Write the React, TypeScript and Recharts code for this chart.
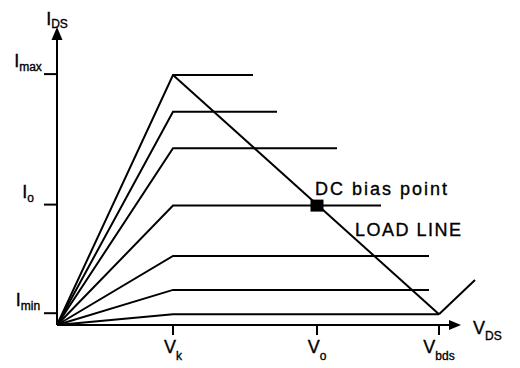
import React from 'react';
import { ComposedChart, Line, Scatter, XAxis, YAxis } from 'recharts';

// Output characteristic: drain current vs drain-source voltage (arbitrary units)
const kneeVoltage = 2.9;
const curveCurrents = [83.3, 71.1, 58.9, 39.8, 23, 11.7, 3.6];
const curveEndVoltages = [4.9, 5.5, 7.0, 8.1, 9.3, 9.3, 9.55];

const xTickValues = [2.9, 6.5, 9.55];
const xTickSubs = ['k', 'o', 'bds'];
const yTickValues = [3.6, 39.8, 83.3];
const yTickSubs = ['min', 'o', 'max'];

const loadLine = [{ v: 2.9, i: 83.3 }, { v: 9.55, i: 3.6 }];
const breakdownLine = [{ v: 9.55, i: 3.6 }, { v: 10.45, i: 15 }];
const biasPoint = [{ v: 6.5, i: 39.8 }];

const xAxisLine = [{ v: 0, i: 0 }, { v: 9.9, i: 0 }];
const yAxisLine = [{ v: 0, i: 0 }, { v: 0, i: 96 }];
const xArrowTip = [{ v: 10.1, i: 0 }];
const yArrowTip = [{ v: 0, i: 99.3 }];

const biasLabel = [{ v: 6.45, i: 43.3 }];
const loadLabel = [{ v: 7.45, i: 29.7 }];

const FONT = '"Liberation Sans", Arial, Helvetica, sans-serif';
// scanned lettering is a bit heavier than the plain font
const INK = { fill: '#000', stroke: '#000', strokeWidth: 0.35 };

const curves = curveCurrents.map((c, k) => [
    { v: 0, i: 0 },
    { v: kneeVoltage, i: c },
    { v: curveEndVoltages[k], i: c },
]);

const XTick = (props: any) => {
    const { x, y, payload } = props;
    const k = xTickValues.indexOf(payload.value);
    return (
        <g>
            <line x1={x} y1={y} x2={x} y2={y + 10} stroke="#000" strokeWidth={2} />
            <text x={x} y={y + 28} textAnchor="middle" fontFamily={FONT} {...INK}>
                <tspan fontSize={18}>V</tspan>
                <tspan fontSize={12} dy={7}>{xTickSubs[k]}</tspan>
            </text>
        </g>
    );
};

const YTick = (props: any) => {
    const { x, y, payload } = props;
    const k = yTickValues.indexOf(payload.value);
    return (
        <g>
            <line x1={x - 13} y1={y - 1} x2={x} y2={y - 1} stroke="#000" strokeWidth={2} />
            <text x={x - 29} y={y - 8} textAnchor="middle" fontFamily={FONT} {...INK}>
                <tspan fontSize={18}>I</tspan>
                <tspan fontSize={12} dy={4}>{yTickSubs[k]}</tspan>
            </text>
        </g>
    );
};

const UpArrow = ({ cx, cy }: any) => (
    <g>
        <path d={`M${cx},${cy} L${cx - 5.5},${cy + 13} L${cx + 5.5},${cy + 13} Z`} fill="#000" />
        <text x={cx} y={cy - 2} textAnchor="middle" fontFamily={FONT} {...INK}>
            <tspan fontSize={18}>I</tspan>
            <tspan fontSize={12} dy={3}>DS</tspan>
        </text>
    </g>
);

const RightArrow = ({ cx, cy }: any) => (
    <g>
        <path d={`M${cx},${cy} L${cx - 12},${cy - 5} L${cx - 12},${cy + 5} Z`} fill="#000" />
        <text x={cx + 12} y={cy + 9} fontFamily={FONT} {...INK}>
            <tspan fontSize={18}>V</tspan>
            <tspan fontSize={12} dy={6}>DS</tspan>
        </text>
    </g>
);

const BiasSquare = ({ cx, cy }: any) => (
    <rect x={cx - 6.5} y={cy - 6} width={13} height={12} fill="#000" />
);

const BiasText = ({ cx, cy }: any) => (
    <text x={cx} y={cy} fontFamily={FONT} fontSize={18} letterSpacing={2} {...INK}>
        DC bias point
    </text>
);

const LoadText = ({ cx, cy }: any) => (
    <text x={cx} y={cy} fontFamily={FONT} fontSize={18} letterSpacing={1.5} {...INK}>
        LOAD LINE
    </text>
);

const App: React.FC = () => {
    return (
        <div style={{ position: 'absolute', left: 0, top: 0, background: '#fff' }}>
            <ComposedChart
                width={520}
                height={368}
                margin={{ top: 25, right: 23, bottom: 0, left: 0 }}
            >
                <XAxis
                    type="number"
                    dataKey="v"
                    domain={[0, 11]}
                    ticks={xTickValues}
                    interval={0}
                    tick={<XTick />}
                    axisLine={false}
                    tickLine={false}
                    tickSize={0}
                    tickMargin={0}
                    height={43}
                />
                <YAxis
                    type="number"
                    dataKey="i"
                    domain={[0, 100]}
                    ticks={yTickValues}
                    interval={0}
                    tick={<YTick />}
                    axisLine={false}
                    tickLine={false}
                    tickSize={0}
                    tickMargin={0}
                    width={57}
                />
                <Line data={xAxisLine} dataKey="i" stroke="#000" strokeWidth={2} dot={false} isAnimationActive={false} />
                <Line data={yAxisLine} dataKey="i" stroke="#000" strokeWidth={2} dot={false} isAnimationActive={false} />
                {curves.map((pts, k) => (
                    <Line
                        key={k}
                        data={pts}
                        dataKey="i"
                        type="linear"
                        stroke="#000"
                        strokeWidth={2}
                        dot={false}
                        isAnimationActive={false}
                    />
                ))}
                <Line data={loadLine} dataKey="i" stroke="#000" strokeWidth={2} dot={false} isAnimationActive={false} />
                <Line data={breakdownLine} dataKey="i" stroke="#000" strokeWidth={2} dot={false} isAnimationActive={false} />
                <Scatter data={biasPoint} shape={<BiasSquare />} isAnimationActive={false} />
                <Scatter data={xArrowTip} shape={<RightArrow />} isAnimationActive={false} />
                <Scatter data={yArrowTip} shape={<UpArrow />} isAnimationActive={false} />
                <Scatter data={biasLabel} shape={<BiasText />} isAnimationActive={false} />
                <Scatter data={loadLabel} shape={<LoadText />} isAnimationActive={false} />
            </ComposedChart>
        </div>
    );
};

export default App;
